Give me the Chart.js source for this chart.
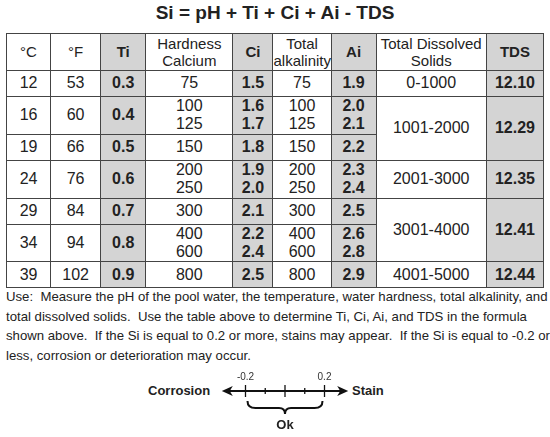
<!DOCTYPE html><html><head><meta charset="utf-8">
<script src="https://cdn.jsdelivr.net/npm/chart.js@4"></script>
<style>
body{margin:0;width:550px;height:437px;background:#fff;font-family:Arial,"Liberation Sans",sans-serif;color:#222;position:relative;overflow:hidden}
#title{position:absolute;top:2px;left:0;width:550px;text-align:center;font-weight:bold;font-size:19px}
table{position:absolute;left:6px;top:33px;width:538px;height:250px;border-collapse:collapse;font-size:16px;table-layout:fixed;border:1.5px solid #333}
td{border:1px solid #444;text-align:center;padding:0;line-height:1.15}
tr.h td{height:36px;font-size:15px}
td.g{background:#d4d4d4;font-weight:bold}
td.s{font-size:12.5px;line-height:1.15}
#note{position:absolute;left:6px;top:287px;width:545px;font-size:13.2px;line-height:19.5px}
#nl{position:absolute;left:205px;top:362px;width:160px;height:75px}
.lab{position:absolute;font-weight:bold;font-size:13px}
</style></head><body>
<div id="title">Si = pH + Ti + Ci + Ai - TDS</div>
<table id="tbl"></table>
<div id="note">Use:&nbsp; Measure the pH of the pool water, the temperature, water hardness, total alkalinity, and total dissolved solids.&nbsp; Use the table above to determine Ti, Ci, Ai, and TDS in the formula shown above.&nbsp; If the Si is equal to 0.2 or more, stains may appear.&nbsp; If the Si is equal to -0.2 or less, corrosion or deterioration may occur.</div>
<div class="lab" style="left:148px;top:383px">Corrosion</div>
<div class="lab" style="left:352px;top:383px">Stain</div>
<div id="nl"><canvas id="c"></canvas></div>
<script>
const tempC=[12,16,19,24,29,34,39];
const tempF=[53,60,66,76,84,94,102];
const tiVals=["0.3","0.4","0.5","0.6","0.7","0.8","0.9"];
const hardness=[[75],[100,125],[150],[200,250],[300],[400,600],[800]];
const ciVals=[["1.5"],["1.6","1.7"],["1.8"],["1.9","2.0"],["2.1"],["2.2","2.4"],["2.5"]];
const alkalinity=[[75],[100,125],[150],[200,250],[300],[400,600],[800]];
const aiVals=[["1.9"],["2.0","2.1"],["2.2"],["2.3","2.4"],["2.5"],["2.6","2.8"],["2.9"]];
const tdsRanges=["0-1000","1001-2000","2001-3000","3001-4000","4001-5000"];
const tdsVals=["12.10","12.29","12.35","12.41","12.44"];
const tdsSpans=[1,2,1,2,1];
const scaleTicks=[-0.2,-0.1,0,0.1,0.2];
const scaleLabels=[-0.2,0.2];

const widths=[44,50,45,87,40,58,45,110,57];
let h='<colgroup>'+widths.map(w=>'<col style="width:'+w+'px">').join('')+'</colgroup>';
h+='<tr class="h"><td>°C</td><td>°F</td><td class="g">Ti</td><td class="s">Hardness<br>Calcium</td><td class="g">Ci</td><td class="s">Total<br>alkalinity</td><td class="g">Ai</td><td class="s">Total Dissolved<br>Solids</td><td class="g">TDS</td></tr>';
let ti=0,left=0;
tempC.forEach((c,i)=>{const ht=hardness[i].length>1?36:26;
h+='<tr style="height:'+ht+'px"><td>'+c+'</td><td>'+tempF[i]+'</td><td class="g">'+tiVals[i]+'</td><td>'+hardness[i].join('<br>')+'</td><td class="g">'+ciVals[i].join('<br>')+'</td><td>'+alkalinity[i].join('<br>')+'</td><td class="g">'+aiVals[i].join('<br>')+'</td>';
if(left===0){h+='<td rowspan="'+tdsSpans[ti]+'">'+tdsRanges[ti]+'</td><td class="g" rowspan="'+tdsSpans[ti]+'">'+tdsVals[ti]+'</td>';left=tdsSpans[ti];ti++;}
left--;h+='</tr>';});
document.getElementById('tbl').innerHTML=h;

const drawPlugin={id:'nl',afterDraw(ch){const x=ch.scales.x,g=ch.ctx,y=29;
g.save();g.strokeStyle='#111';g.fillStyle='#111';g.lineWidth=2;
const a=x.getPixelForValue(-0.32),b=x.getPixelForValue(0.32);
g.beginPath();g.moveTo(a+6,y);g.lineTo(b-6,y);g.stroke();
g.beginPath();g.moveTo(a,y);g.lineTo(a+11,y-5);g.lineTo(a+8,y);g.lineTo(a+11,y+5);g.fill();
g.beginPath();g.moveTo(b,y);g.lineTo(b-11,y-5);g.lineTo(b-8,y);g.lineTo(b-11,y+5);g.fill();
g.lineWidth=1.3;
scaleTicks.forEach(v=>{const p=x.getPixelForValue(v),m=(Math.abs(v)<0.15&&v!==0)?3:6;g.beginPath();g.moveTo(p,y-m);g.lineTo(p,y+m);g.stroke();});
g.font='10px Arial';g.textAlign='center';g.fillStyle='#333';
scaleLabels.forEach(v=>g.fillText(v.toFixed(1),x.getPixelForValue(v),y-11));
const l=x.getPixelForValue(-0.2)+2,r=x.getPixelForValue(0.2)-2,m=(l+r)/2;
g.lineWidth=2;g.beginPath();g.moveTo(l,y+10);g.quadraticCurveTo(l,y+17,l+8,y+17);g.lineTo(m-6,y+17);g.quadraticCurveTo(m,y+17,m,y+23);
g.quadraticCurveTo(m,y+17,m+6,y+17);g.lineTo(r-8,y+17);g.quadraticCurveTo(r,y+17,r,y+10);g.stroke();
g.font='bold 13px Arial';g.fillStyle='#222';g.fillText('Ok',m,y+38);g.restore();}};
new Chart(document.getElementById('c'),{type:'scatter',data:{datasets:[{data:[],showLine:false}]},
options:{responsive:true,maintainAspectRatio:false,animation:false,layout:{padding:0},
plugins:{legend:{display:false},tooltip:{enabled:false}},
scales:{x:{type:'linear',min:-0.405,max:0.405,display:false},y:{display:false,min:0,max:1}}},plugins:[drawPlugin]});
</script></body></html>
